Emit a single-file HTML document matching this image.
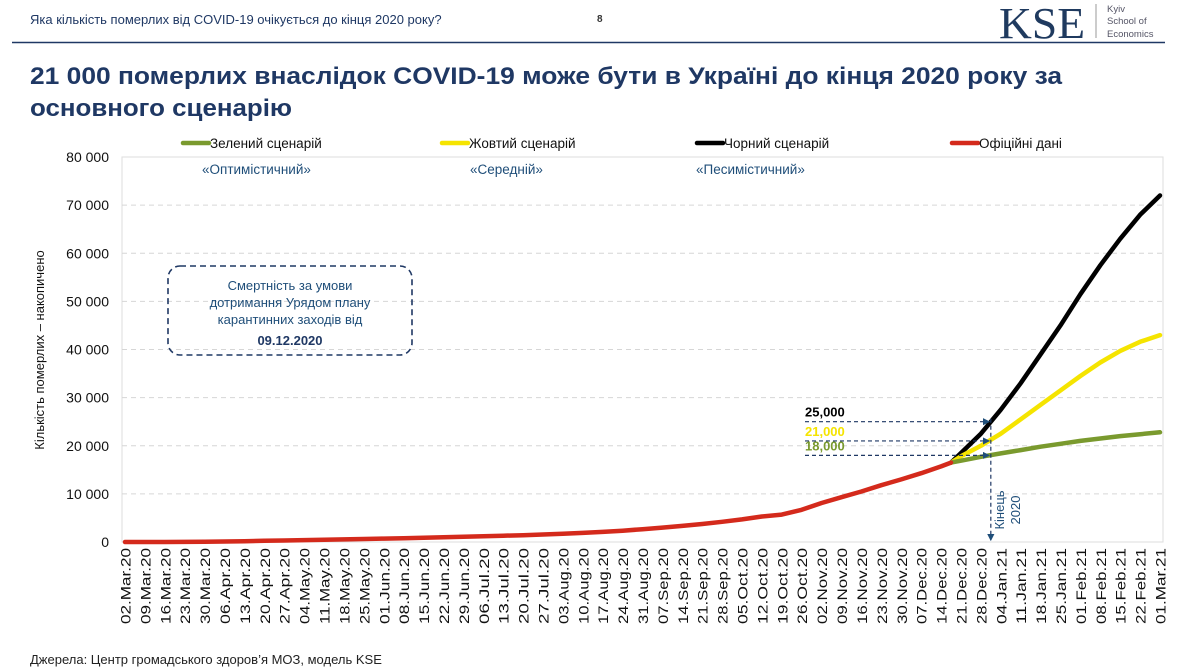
<!DOCTYPE html>
<html><head><meta charset="utf-8"><style>
body{margin:0;background:#fff;}
svg{display:block;font-family:"Liberation Sans",sans-serif;}
</style></head><body>
<svg id="chart" width="1193" height="667" xmlns="http://www.w3.org/2000/svg">
<text x="30" y="24" font-size="13" fill="#1f3864">Яка кількість померлих від COVID-19 очікується до кінця 2020 року?</text>
<text x="597" y="22" font-size="10" font-weight="bold" fill="#333">8</text>
<line x1="12" y1="42.5" x2="1165" y2="42.5" stroke="#1f3864" stroke-width="1.5"/>
<text x="999" y="38" font-family="Liberation Serif,serif" font-size="44" fill="#1f3a5f" textLength="86" lengthAdjust="spacingAndGlyphs">KSE</text>
<line x1="1096" y1="4" x2="1096" y2="38" stroke="#999" stroke-width="1"/>
<g font-size="9.5" fill="#556">
<text x="1107" y="12">Kyiv</text><text x="1107" y="24">School of</text><text x="1107" y="37">Economics</text></g>
<text x="30" y="84" font-size="24" font-weight="bold" fill="#1f3864" textLength="1032" lengthAdjust="spacingAndGlyphs">21 000 померлих внаслідок COVID-19 може бути в Україні до кінця 2020 року за</text>
<text x="30" y="116" font-size="24" font-weight="bold" fill="#1f3864" textLength="262" lengthAdjust="spacingAndGlyphs">основного сценарію</text>
<g id="legend" font-size="13" fill="#111"></g>
<g id="plot"></g>
<text x="30" y="664" font-size="13" fill="#222">Джерела: Центр громадського здоров’я МОЗ, модель KSE</text>
</svg>
<script>
const dates=["02.Mar.20","09.Mar.20","16.Mar.20","23.Mar.20","30.Mar.20","06.Apr.20","13.Apr.20","20.Apr.20","27.Apr.20","04.May.20","11.May.20","18.May.20","25.May.20","01.Jun.20","08.Jun.20","15.Jun.20","22.Jun.20","29.Jun.20","06.Jul.20","13.Jul.20","20.Jul.20","27.Jul.20","03.Aug.20","10.Aug.20","17.Aug.20","24.Aug.20","31.Aug.20","07.Sep.20","14.Sep.20","21.Sep.20","28.Sep.20","05.Oct.20","12.Oct.20","19.Oct.20","26.Oct.20","02.Nov.20","09.Nov.20","16.Nov.20","23.Nov.20","30.Nov.20","07.Dec.20","14.Dec.20","21.Dec.20","28.Dec.20","04.Jan.21","11.Jan.21","18.Jan.21","25.Jan.21","01.Feb.21","08.Feb.21","15.Feb.21","22.Feb.21","01.Mar.21"];
const yTicks=[0,10000,20000,30000,40000,50000,60000,70000,80000];
const yTickLabels=["0","10 000","20 000","30 000","40 000","50 000","60 000","70 000","80 000"];
const officialIdx=[0,1,2,3,4,5,6,7,8,9,10,11,12,13,14,15,16,17,18,19,20,21,22,23,24,25,26,27,28,29,30,31,32,33,34,35,36,37,38,39,40,41,41.5];
const official=[0,0,3,20,50,100,170,250,320,390,470,550,620,700,780,880,980,1080,1180,1300,1420,1560,1720,1900,2100,2350,2650,3000,3350,3750,4200,4700,5300,5700,6700,8100,9300,10500,11800,13000,14300,15700,16500];
const scenIdx=[41.5,42,43,44,45,46,47,48,49,50,51,52];
const black=[16500,18500,22500,27500,33000,39000,45000,51500,57500,63000,68000,72000];
const yellow=[16500,17800,20000,22500,25500,28500,31500,34500,37300,39700,41600,43000];
const green=[16500,16900,17700,18400,19100,19800,20400,21000,21500,22000,22400,22800];
const endYearIdx=43.5;
const endValues=[25000,21000,18000];
const endLabels=["25,000","21,000","18,000"];
const endColors=["#000","#f5e400","#7a9a2e"];

const NS="http://www.w3.org/2000/svg";
const X0=125,X1=1160,Y0=542,Y1=157,PL=122,PR=1163;
const x=i=>X0+i*(X1-X0)/(dates.length-1);
const y=v=>Y0-v*(Y0-Y1)/80000;
function mk(tag,attrs,parent,txt){const e=document.createElementNS(NS,tag);for(const k in attrs)e.setAttribute(k,attrs[k]);if(txt!==undefined)e.textContent=txt;parent.appendChild(e);return e;}
const plot=document.getElementById('plot');
const defs=mk('defs',{},plot);
const mkr=mk('marker',{id:'arr',markerWidth:6,markerHeight:6,refX:5,refY:3,orient:'auto'},defs);
mk('path',{d:'M0,0 L6,3 L0,6 z',fill:'#1f4e79'},mkr);
let frame=mk('rect',{x:PL,y:Y1,width:PR-PL,height:Y0-Y1,fill:'none',stroke:'#ddd'},plot);


yTicks.forEach((t,i)=>{
  if(t>0&&t<80000){let g=mk('line',{x1:PL,x2:PR,y1:y(t),y2:y(t),stroke:'#d6d6d6','stroke-dasharray':'5,4'},plot);
  
  }
  let l=mk('text',{x:109,y:y(t)+5,'font-size':14,'text-anchor':'end',fill:'#111'},plot,yTickLabels[i]);
  
  
});
let yt=mk('text',{transform:'translate(44,350) rotate(-90)','font-size':13,'text-anchor':'middle',fill:'#111'},plot,'Кількість померлих – накопичено');


dates.forEach((d,i)=>{
  let t=mk('text',{transform:`translate(${x(i)+5.5},548) rotate(-90)`,'font-size':14,'text-anchor':'end',fill:'#111',textLength:76,lengthAdjust:'spacingAndGlyphs'},plot,d);
  
  
});
let bx=mk('rect',{x:168,y:266,width:244,height:89,rx:12,fill:'none',stroke:'#1f3864','stroke-width':1.6,'stroke-dasharray':'6,4'},plot);


["Смертність за умови","дотримання Урядом плану","карантинних заходів від"].forEach((s,i)=>{
  let t=mk('text',{x:290,y:290+i*17,'font-size':13,'text-anchor':'middle',fill:'#1f4e79'},plot,s);
  
  
});
let bd=mk('text',{x:290,y:345,'font-size':13,'font-weight':'bold','text-anchor':'middle',fill:'#1f3864'},plot,'09.12.2020');


function line(idx,vals,color,name){
  const pts=idx.map((i,k)=>x(i).toFixed(1)+','+y(vals[k]).toFixed(1)).join(' ');
  let p=mk('polyline',{points:pts,fill:'none',stroke:color,'stroke-width':4.5,'stroke-linejoin':'round','stroke-linecap':'round'},plot);
  
  
}
line(scenIdx,black,'#000','black-scenario-line');
line(scenIdx,yellow,'#f5e400','yellow-scenario-line');
line(scenIdx,green,'#7a9a2e','green-scenario-line');
line(officialIdx,official,'#d42a1c','official-data-line');
const ex=x(endYearIdx);
endValues.forEach((v,i)=>{
  let l=mk('line',{x1:805,x2:ex-2,y1:y(v),y2:y(v),stroke:'#1f3864','stroke-width':1.2,'stroke-dasharray':'4,3','marker-end':'url(#arr)'},plot);
  
  
  let t=mk('text',{x:805,y:y(v)-5,'font-size':13,'font-weight':'bold',fill:endColors[i]},plot,endLabels[i]);
  
  
});
let vl=mk('line',{x1:ex,x2:ex,y1:y(endValues[0])-3,y2:Y0-2,stroke:'#1f3864','stroke-width':1.2,'stroke-dasharray':'4,3','marker-end':'url(#arr)'},plot);


let et=mk('text',{transform:`translate(${ex+13},510) rotate(-90)`,'font-size':13,'text-anchor':'middle',fill:'#1f4e79'},plot,'Кінець');


let et2=mk('text',{transform:`translate(${ex+29},510) rotate(-90)`,'font-size':13,'text-anchor':'middle',fill:'#1f4e79'},plot,'2020');


const lg=document.getElementById('legend');
const legendItems=[["Зелений сценарій","#7a9a2e",183,"«Оптимістичний»",202],["Жовтий сценарій","#f5e400",442,"«Середній»",470],["Чорний сценарій","#000",697,"«Песимістичний»",696],["Офіційні дані","#d42a1c",952,null,0]];
legendItems.forEach(it=>{
  let g=mk('g',{},lg);
  
  
  mk('line',{x1:it[2],x2:it[2]+26,y1:143,y2:143,stroke:it[1],'stroke-width':4.5,'stroke-linecap':'round'},g);
  mk('text',{x:it[2]+27,y:148,'font-size':13.5,fill:'#111'},g,it[0]);
  if(it[3]){let s=mk('text',{x:it[4],y:174,'font-size':13.5,fill:'#1f4e79'},lg,it[3]);
  
  }
});
</script>
</body></html>
